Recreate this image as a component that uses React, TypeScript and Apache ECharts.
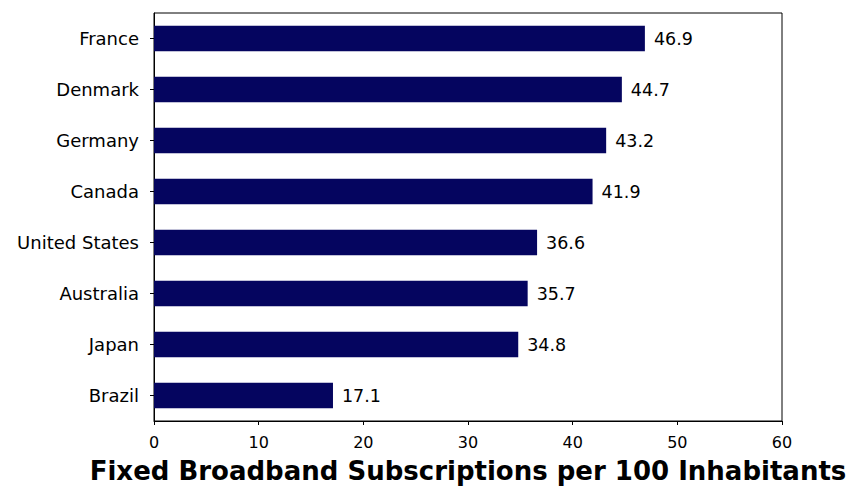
import React, { useEffect, useRef } from "react";
import * as echarts from "echarts";

const categories = ["Brazil", "Japan", "Australia", "United States", "Canada", "Germany", "Denmark", "France"];
const values = [17.1, 34.8, 35.7, 36.6, 41.9, 43.2, 44.7, 46.9];
const xTicks = { min: 0, max: 60, interval: 10 };
const xTitle = "Fixed Broadband Subscriptions per 100 Inhabitants";

export default function App() {
  const ref = useRef<HTMLDivElement>(null);
  useEffect(() => {
    if (!ref.current) return;
    const chart = echarts.init(ref.current, undefined, { renderer: "svg" });
    const font = "DejaVu Sans";
    chart.setOption({
      animation: false,
      backgroundColor: "#fff",
      grid: {
        left: 154,
        top: 13,
        right: 70,
        bottom: 68,
        show: true,
        borderColor: "#000",
        borderWidth: 1,
        containLabel: false,
      },
      xAxis: {
        type: "value",
        min: xTicks.min,
        max: xTicks.max,
        interval: xTicks.interval,
        splitLine: { show: false },
        axisLine: { show: true, lineStyle: { color: "#000", width: 1 } },
        axisTick: { show: true, length: 4, lineStyle: { color: "#000" } },
        axisLabel: { color: "#000", fontFamily: font, fontSize: 16, margin: 13 },
        name: xTitle,
        nameLocation: "middle",
        nameGap: 37,
        nameTextStyle: { color: "#000", fontFamily: font, fontSize: 26, fontWeight: "bold" },
      },
      yAxis: {
        type: "category",
        data: categories,
        axisLine: { show: true, lineStyle: { color: "#000", width: 1 } },
        axisTick: { show: true, length: 4, alignWithLabel: true, lineStyle: { color: "#000" } },
        axisLabel: { color: "#000", fontFamily: font, fontSize: 18, margin: 15 },
      },
      series: [
        {
          type: "bar",
          data: values,
          barWidth: "50%",
          itemStyle: { color: "#05055f" },
          label: {
            show: true,
            position: "right",
            distance: 9,
            color: "#000",
            fontFamily: font,
            fontSize: 17.5,
            formatter: (p: any) => p.value.toFixed(1),
          },
        },
      ],
    });
    return () => chart.dispose();
  }, []);
  return (
    <div
      ref={ref}
      style={{ position: "fixed", left: 0, top: 0, width: 852, height: 489, background: "#fff" }}
    />
  );
}
